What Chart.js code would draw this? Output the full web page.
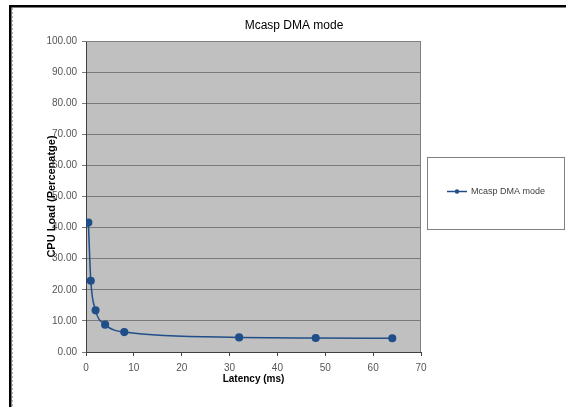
<!DOCTYPE html>
<html>
<head>
<meta charset="utf-8">
<script src="https://cdn.jsdelivr.net/npm/chart.js@4"></script>
<style>
  html, body { margin: 0; padding: 0; background: #fff; }
  #wrap { width: 566px; height: 407px; }
</style>
</head>
<body>
<div id="wrap"><canvas id="myChart" width="566" height="407"></canvas></div>
<script>
// Chart data

const chartTitle = 'Mcasp DMA mode';
const seriesName = 'Mcasp DMA mode';
const latency = [0.5, 1, 2, 4, 8, 32, 48, 64];           // ms
const cpuLoad = [41.6, 22.9, 13.4, 8.8, 6.4, 4.7, 4.5, 4.4]; // percent
const xTicks = [0, 10, 20, 30, 40, 50, 60, 70];
const yTicks = [0, 10, 20, 30, 40, 50, 60, 70, 80, 90, 100];

const lineColor = '#1f4e89';

// frame, plot background, title and legend box
const decorations = {
    id: 'decorations',
    beforeDraw(chart) {
        const ctx = chart.ctx;
        const a = chart.chartArea;
        ctx.save();
        ctx.fillStyle = '#fff';
        ctx.fillRect(0, 0, chart.width, chart.height);
        ctx.fillStyle = '#c0c0c0';
        ctx.fillRect(a.left, a.top, a.right - a.left, a.bottom - a.top);
        ctx.restore();
    },
    afterDraw(chart) {
        const ctx = chart.ctx;
        const a = chart.chartArea;
        ctx.save();
        // plot border top / right
        ctx.strokeStyle = '#808080';
        ctx.lineWidth = 1;
        ctx.beginPath();
        ctx.moveTo(a.left, a.top + 0.5);
        ctx.lineTo(a.right - 0.5, a.top + 0.5);
        ctx.lineTo(a.right - 0.5, a.bottom);
        ctx.stroke();

        // outer frame
        ctx.fillStyle = '#000';
        ctx.fillRect(9, 5, chart.width - 9, 2.5);
        ctx.fillRect(9, 5, 2.5, chart.height - 5);
        ctx.strokeStyle = '#b0b0b0';
        ctx.setLineDash([2, 2]);
        ctx.beginPath();
        ctx.moveTo(12.5, 8);
        ctx.lineTo(12.5, chart.height);
        ctx.stroke();
        ctx.setLineDash([]);

        // title
        ctx.fillStyle = '#000';
        ctx.font = '12px "Liberation Sans", Arial, sans-serif';
        ctx.textAlign = 'center';
        ctx.textBaseline = 'middle';
        ctx.fillText(chartTitle, 294, 26);

        // legend box
        ctx.fillStyle = '#fff';
        ctx.fillRect(427, 157, 137, 72);
        ctx.strokeStyle = '#808080';
        ctx.strokeRect(427.5, 157.5, 137, 72);
        ctx.strokeStyle = lineColor;
        ctx.lineWidth = 1.5;
        ctx.beginPath();
        ctx.moveTo(447, 191.5);
        ctx.lineTo(467, 191.5);
        ctx.stroke();
        ctx.fillStyle = lineColor;
        ctx.beginPath();
        ctx.arc(457, 191.5, 2.2, 0, Math.PI * 2);
        ctx.fill();
        ctx.fillStyle = '#404040';
        ctx.font = '9px "Liberation Sans", Arial, sans-serif';
        ctx.textAlign = 'left';
        ctx.fillText(chart.data.datasets[0].label, 471, 192);
        ctx.restore();
    }
};

const data = {
    datasets: [{
        label: seriesName,
        data: latency.map((x, i) => ({ x: x, y: cpuLoad[i] })),
        borderColor: lineColor,
        backgroundColor: lineColor,
        borderWidth: 1.5,
        pointRadius: 3.3,
        pointHoverRadius: 3.3,
        cubicInterpolationMode: 'monotone',
        fill: false
    }]
};

const tickFont = { family: '"Liberation Sans", Arial, sans-serif', size: 10 };

const config = {
    type: 'line',
    data: data,
    options: {
        responsive: false,
        animation: false,
        layout: {
            padding: { left: 0, right: 145, top: 41, bottom: 18 }
        },
        plugins: {
            legend: { display: false },
            title: { display: false },
            tooltip: { enabled: false }
        },
        scales: {
            x: {
                type: 'linear',
                min: xTicks[0],
                max: xTicks[xTicks.length - 1],
                afterBuildTicks: (s) => { s.ticks = xTicks.map(v => ({ value: v })); },
                afterFit: (s) => { s.height = 37; },
                ticks: { color: '#555', font: tickFont, padding: 6, maxRotation: 0 },
                grid: { drawOnChartArea: false, color: '#404040', tickLength: 4 },
                border: { color: '#404040' },
                title: {
                    display: true,
                    text: 'Latency (ms)',
                    color: '#000',
                    font: { family: '"Liberation Sans", Arial, sans-serif', size: 10, weight: 'bold' },
                    padding: { top: 4, bottom: 4 }
                }
            },
            y: {
                min: yTicks[0],
                max: yTicks[yTicks.length - 1],
                afterBuildTicks: (s) => { s.ticks = yTicks.map(v => ({ value: v })); },
                afterFit: (s) => { s.width = 86; },
                ticks: {
                    color: '#555',
                    font: tickFont,
                    padding: 5,
                    callback: (v) => Number(v).toFixed(2)
                },
                grid: { color: '#7a7a7a', tickLength: 4 },
                border: { color: '#404040' },
                title: {
                    display: true,
                    text: 'CPU Load (Percenatge)',
                    color: '#000',
                    font: { family: '"Liberation Sans", Arial, sans-serif', size: 11, weight: 'bold' },
                    padding: { top: 45, bottom: 0 }
                }
            }
        }
    },
    plugins: [decorations]
};

const myChart = new Chart(document.getElementById('myChart'), config);
</script>
</body>
</html>
